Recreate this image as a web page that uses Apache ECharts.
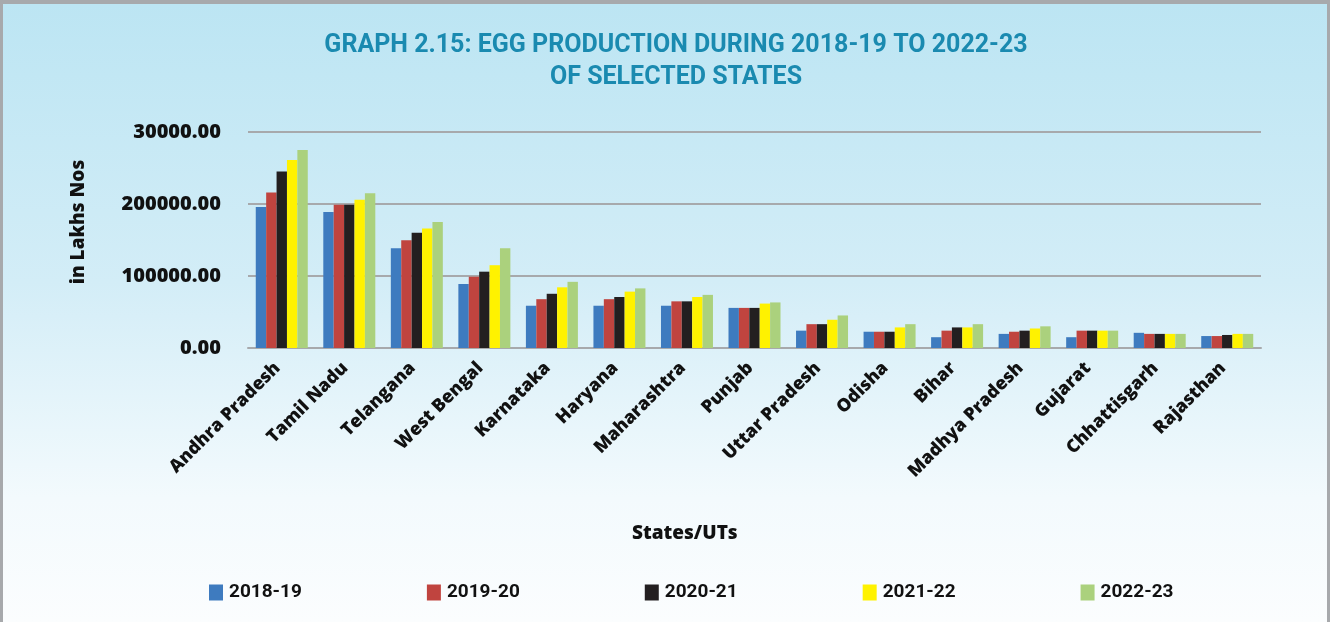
<!DOCTYPE html>
<html><head><meta charset="utf-8">
<script src="https://cdn.jsdelivr.net/npm/echarts@6/dist/echarts.min.js"></script>
<style>
html,body{margin:0;padding:0;background:#fff;}
#c{position:absolute;left:0;top:0;width:1324px;height:618px;border-top:4px solid #a7a9ac;border-left:3px solid #a7a9ac;border-right:3px solid #a7a9ac;
background:linear-gradient(to bottom,#bce5f3 0%,#d3edf7 45%,#f3fafd 80%,#fbfdfe 100%);}
</style></head><body>
<div id="c"></div>
<script>
const states = ["Andhra Pradesh","Tamil Nadu","Telangana","West Bengal","Karnataka","Haryana","Maharashtra","Punjab","Uttar Pradesh","Odisha","Bihar","Madhya Pradesh","Gujarat","Chhattisgarh","Rajasthan"];
const years = ["2018-19","2019-20","2020-21","2021-22","2022-23"];
const y2018_19 = [196000,189000,138500,88900,58700,58700,58700,55700,24100,22600,15000,19600,15000,21100,16600];
const y2019_20 = [216000,199000,149500,99000,67800,67800,64800,55700,33100,22600,24100,22600,24100,19600,16600];
const y2020_21 = [245000,199000,160000,106000,75300,70800,64800,55700,33100,22600,28600,24100,24100,19600,18100];
const y2021_22 = [261000,206000,166000,115000,84300,78300,70800,61700,39200,28600,28600,27100,24100,19600,19600];
const y2022_23 = [275000,215000,175000,138600,91900,82800,73800,63300,45200,33100,33100,30100,24100,19600,19600];
const yTickLabels = {0:"0.00",100000:"100000.00",200000:"200000.00",300000:"30000.00"};
const colors = ["#3e7bbf","#c0443f","#231f20","#fff200","#abd17d"];
const seriesData = [y2018_19,y2019_20,y2020_21,y2021_22,y2022_23];

const heavy = '"Open Sans",sans-serif';
const chart = echarts.init(document.getElementById('c'), null, {renderer:'canvas'});
chart.setOption({
  backgroundColor:'transparent',
  title:{
    text:"GRAPH 2.15: EGG PRODUCTION DURING 2018-19 TO 2022-23\nOF SELECTED STATES",
    left:668, top:21, textAlign:'center',
    textStyle:{color:'#1a8ab0',fontFamily:'Roboto,sans-serif',fontWeight:'bold',fontSize:25,lineHeight:32}
  },
  legend:{
    data:years, left:201, top:574, itemWidth:14, itemHeight:16, itemGap:125, icon:'rect',
    textStyle:{color:'#111',fontFamily:'Roboto,sans-serif',fontWeight:'bold',fontSize:19,padding:[0,0,0,1]}
  },
  graphic:[{type:'text',left:629,top:520,style:{text:'States/UTs',fill:'#111',font:'800 19px "Open Sans", sans-serif'}}],
  grid:{left:245, right:66, top:128, bottom:274, containLabel:false},
  xAxis:{
    type:'category', data:states,
    axisLine:{show:true,lineStyle:{color:'#a7a9ac',width:2}},
    axisTick:{show:false},
    axisLabel:{rotate:45,interval:0,margin:13,padding:[0,6,0,0],color:'#111',fontFamily:heavy,fontWeight:800,fontSize:18}
  },
  yAxis:{
    type:'value', min:0, max:300000, interval:100000,
    name:'in Lakhs Nos', nameLocation:'middle', nameGap:160, nameRotate:90,
    nameTextStyle:{color:'#111',fontFamily:heavy,fontWeight:800,fontSize:19,padding:[0,0,0,36]},
    axisLine:{show:false}, axisTick:{show:false},
    splitLine:{lineStyle:{color:'#a7a9ac',width:2}},
    axisLabel:{margin:27,color:'#111',fontFamily:heavy,fontWeight:800,fontSize:20,
      formatter:v=>yTickLabels[v]!==undefined?yTickLabels[v]:''}
  },
  series: years.map((y,i)=>({
    name:y, type:'bar', data:seriesData[i], barGap:'0%', barCategoryGap:'23%',
    itemStyle:{color:colors[i]}
  }))
});
</script></body></html>
